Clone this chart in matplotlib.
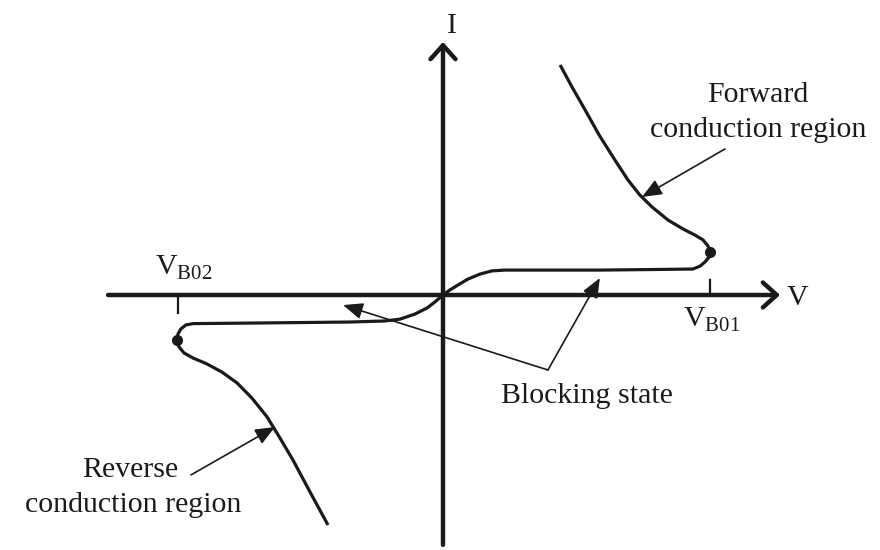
import matplotlib.pyplot as plt

plt.rcParams['font.family'] = ['Liberation Serif', 'DejaVu Serif']
plt.rcParams['mathtext.fontset'] = 'custom'
plt.rcParams['mathtext.rm'] = 'Liberation Serif'

# I-V characteristic of a DIAC, arbitrary units (breakover voltage ~ 10)
fwd_v = [0, 0.26, 0.57, 0.94, 1.40, 1.85, 2.34, 4.04, 5.92, 7.81, 9.43, 9.70,
         9.89, 10.04, 10.08, 10.00, 9.81, 9.51, 9.06, 8.49, 7.89, 7.43, 6.98,
         6.49, 5.89, 5.32, 4.89, 4.42]
fwd_i = [0, 0.19, 0.38, 0.60, 0.79, 0.91, 0.94, 0.94, 0.94, 0.96, 0.98, 1.09,
         1.25, 1.43, 1.62, 1.85, 2.08, 2.26, 2.49, 2.83, 3.32, 3.77, 4.34,
         5.09, 6.04, 7.06, 7.81, 8.68]

rev_v = [0, -0.30, -0.60, -1.06, -1.62, -2.19, -3.51, -5.40, -7.28, -9.43,
         -9.70, -9.89, -10.00, -10.04, -9.96, -9.77, -9.43, -8.91, -8.34,
         -7.77, -7.21, -6.64, -6.15, -5.66, -5.02, -4.34]
rev_i = [0, -0.26, -0.49, -0.72, -0.91, -0.98, -1.02, -1.04, -1.06, -1.08,
         -1.13, -1.28, -1.47, -1.70, -1.96, -2.19, -2.38, -2.60, -2.91,
         -3.32, -3.89, -4.60, -5.40, -6.23, -7.43, -8.68]

breakover_v = [10.08, -10.04]
breakover_i = [1.62, -1.70]
tick_v = [10.08, -10.0]
tick_len = [0.57, -0.68]

INK = '#1a1a1a'
FS = 21.5

fig = plt.figure(figsize=(8.8, 5.5), dpi=100)
ax = fig.add_axes([0, 0, 1, 1])
ax.set_xlim(-16.717, 16.491)
ax.set_ylim(-9.623, 11.132)
ax.axis('off')

# axes with open arrowheads
axis_arrow = dict(arrowstyle='->,head_length=0.5,head_width=0.45', lw=3.2,
                  color=INK, shrinkA=0, shrinkB=0, mutation_scale=20)
ax.annotate('', xy=(12.72, 0), xytext=(-12.64, 0), arrowprops=axis_arrow)
ax.annotate('', xy=(0, 9.55), xytext=(0, -9.43), arrowprops=axis_arrow)

for v, h in zip(tick_v, tick_len):
    ax.plot([v, v], [0, h], color=INK, lw=1.6)

# characteristic curve
ax.plot(fwd_v, fwd_i, color=INK, lw=2.3, solid_capstyle='butt', solid_joinstyle='round')
ax.plot(rev_v, rev_i, color=INK, lw=2.3, solid_capstyle='butt', solid_joinstyle='round')
ax.plot(breakover_v, breakover_i, 'o', color=INK, ms=7)

# axis labels
ax.text(0.34, 9.89, 'I', fontsize=FS, ha='center', va='baseline', color=INK)
ax.text(13.36, -0.38, 'V', fontsize=FS, ha='center', va='baseline', color=INK)
ax.text(9.06, -1.2, r'$\mathrm{V}_{\mathrm{B01}}$', fontsize=FS, ha='left',
        va='baseline', color=INK)
ax.text(-10.87, 0.76, r'$\mathrm{V}_{\mathrm{B02}}$', fontsize=FS, ha='left',
        va='baseline', color=INK)

# annotations
note_arrow = dict(arrowstyle='-|>,head_length=0.6,head_width=0.25', lw=1.2,
                  color=INK, shrinkA=0, shrinkB=0, mutation_scale=20)
ax.text(11.89, 7.28, 'Forward', fontsize=FS, ha='center', va='baseline', color=INK)
ax.text(11.89, 5.96, 'conduction region', fontsize=FS, ha='center', va='baseline', color=INK)
ax.annotate('', xy=(7.51, 3.70), xytext=(10.64, 5.51), arrowprops=note_arrow)

ax.text(-11.81, -6.87, 'Reverse', fontsize=FS, ha='center', va='baseline', color=INK)
ax.text(-11.7, -8.19, 'conduction region', fontsize=FS, ha='center', va='baseline', color=INK)
ax.annotate('', xy=(-6.34, -4.98), xytext=(-9.51, -6.79), arrowprops=note_arrow)

ax.text(5.43, -4.08, 'Blocking state', fontsize=FS, ha='center', va='baseline', color=INK)
ax.annotate('', xy=(-3.77, -0.38), xytext=(3.96, -2.83), arrowprops=note_arrow)
ax.annotate('', xy=(5.92, 0.64), xytext=(3.96, -2.83), arrowprops=note_arrow)

fig.savefig('out.png', dpi=100)
